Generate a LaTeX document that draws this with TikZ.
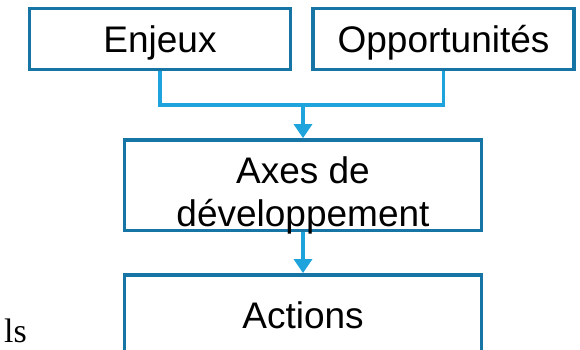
\documentclass[tikz,border=0pt]{standalone}
\usepackage{fontspec}
\setmainfont{Liberation Sans}
\newfontfamily\lsfont{Liberation Serif}
\usetikzlibrary{arrows.meta}
\definecolor{cadre}{RGB}{22,117,164}
\definecolor{fleche}{RGB}{30,163,221}
\tikzset{
	boite/.style={draw=cadre, line width=3.8pt, inner sep=0pt, text height=28pt, text depth=0pt},
	lien/.style={draw=fleche, line width=3.2pt},
}
\begin{document}
\begin{tikzpicture}[x=1pt, y=-1pt, font=\fontsize{37}{43}\selectfont, line join=miter, >={Triangle[width=18pt,length=14pt]}]
	\useasboundingbox (0,0) rectangle (580,350);
	\def\larg{261} \def\haut{61} % boites du haut
	\node[boite, minimum width=\larg, minimum height=\haut] (enjeux) at (160,39) {Enjeux};
	\node[boite, minimum width=\larg, minimum height=\haut] (opport) at (443.5,39) {Opportunités};
	\node[boite, minimum width=357, minimum height=90.5] (axes) at (303,185.3) {};
	\node[inner sep=0pt, align=center] (axestexte) at (303,195) {Axes de\\développement};
	\node[boite, minimum width=357, minimum height=78] (actions) at (303,314) {Actions};
	\coordinate (jonction) at (303,105);
	\draw[lien] (enjeux.south) |- (jonction) -| (opport.south);
	\draw[lien,->] (jonction) -- (axes.north);
	\draw[lien,->] (axes.south) -- (actions.north);
	\node[anchor=base west, inner sep=0pt, font=\lsfont\fontsize{34}{38}\selectfont] (bord) at (4,342) {ls};
\end{tikzpicture}
\end{document}
